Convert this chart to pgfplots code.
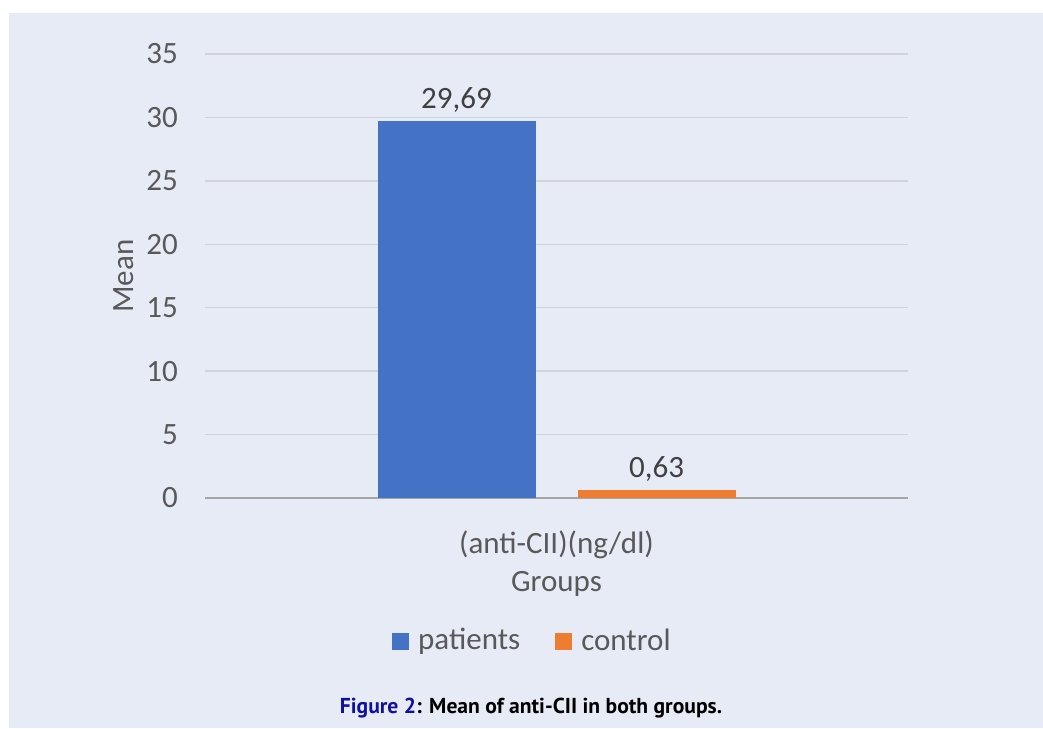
\documentclass[border=0pt]{standalone}
\usepackage{pgfplots}
\pgfplotsset{compat=1.18}
\usepackage{fontspec}
\setmainfont{Carlito}
\newfontfamily\capfont{PT Sans}

\definecolor{bg}{RGB}{231,235,246}
\definecolor{barblue}{RGB}{68,114,196}
\definecolor{barorange}{RGB}{237,125,49}
\definecolor{txtgray}{RGB}{89,89,89}
\definecolor{valgray}{RGB}{64,64,64}
\definecolor{gridc}{RGB}{208,211,218}
\definecolor{axisc}{RGB}{166,166,166}
\definecolor{capblue}{RGB}{16,16,160}

\begin{document}
\begin{tikzpicture}[x=1pt,y=1pt]
  % page 1043 x 728, background panel
  \fill[white] (0,0) rectangle (1043,728);
  \fill[bg] (9,0) rectangle (1043,715);

  \begin{axis}[
      at={(205pt,230pt)}, anchor=south west,
      scale only axis, width=703pt, height=444pt,
      ybar=42pt, bar width=158pt,
      xmin=-1, xmax=1,
      ymin=0, ymax=35,
      ytick={0,5,...,35},
      xtick={0}, xticklabels={(anti-CII)(ng/dl)},
      major tick length=0pt,
      ymajorgrids=true,
      major grid style={gridc, line width=1.5pt},
      axis lines*=left,
      x axis line style={axisc, line width=1.8pt, -},
      y axis line style={draw=none},
      font=\fontsize{31}{36}\selectfont,
      /pgf/number format/assume math mode=true,
      ticklabel style={text=txtgray},
      yticklabel style={anchor=east, inner sep=0pt, xshift=-27pt},
      xticklabel style={anchor=base, inner sep=0pt, yshift=-55pt},
      xlabel={Groups},
      xlabel style={at={(axis description cs:0.5,0)}, anchor=base,
                    inner sep=0pt, yshift=-93pt, text=txtgray},
      ylabel={Mean},
      ylabel style={at={(axis description cs:-0.1152,0.5)}, anchor=center,
                    inner sep=0pt, text=txtgray},
      nodes near coords,
      nodes near coords style={anchor=base, inner sep=0pt, yshift=13pt,
                    text=valgray,
                    /pgf/number format/.cd, fixed, fixed zerofill,
                    precision=2, use comma},
      legend columns=2,
      legend style={draw=none, fill=none, inner sep=0pt,
                    at={(axis description cs:0.2660,-0.3198)}, anchor=base west,
                    nodes={inner sep=0pt, text=txtgray},
                    /tikz/every even column/.append style={column sep=35pt}},
      legend image code/.code={%
        \fill[#1,draw=none] (0pt,-10pt) rectangle (17pt,7pt);
        \path (26pt,0pt);},
    ]
    \addplot[fill=barblue, draw=none] coordinates {(0,29.69)};
    \addlegendentry{patients}
    \addplot[fill=barorange, draw=none] coordinates {(0,0.63)};
    \addlegendentry{control}
  \end{axis}

  \node[anchor=base, inner sep=0pt] at (531,15)
    {\capfont\bfseries\fontsize{21.6}{26}\selectfont
     \textcolor{capblue}{Figure 2}: Mean of anti-CII in both groups.};
\end{tikzpicture}
\end{document}
